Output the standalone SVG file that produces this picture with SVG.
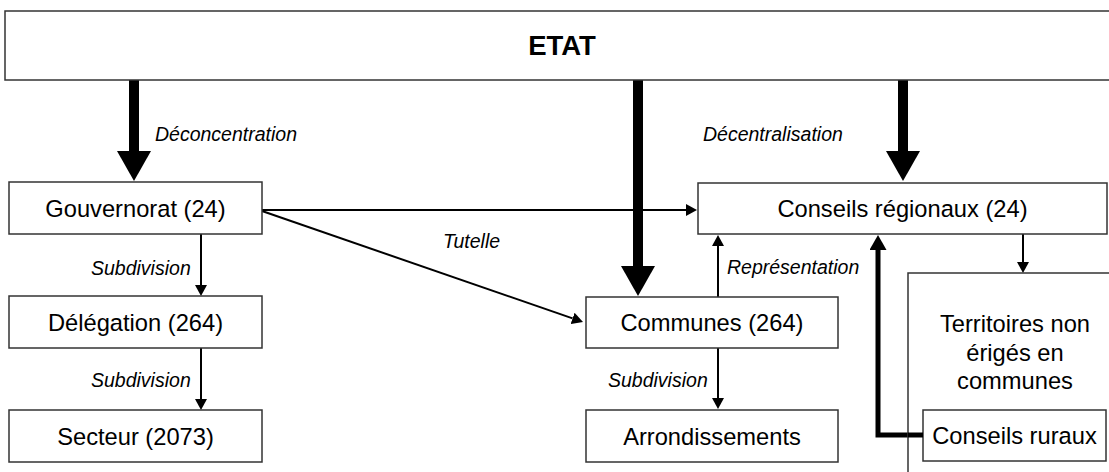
<svg xmlns="http://www.w3.org/2000/svg" width="1109" height="472" viewBox="0 0 1109 472">
<style>
.box{fill:#fff;stroke:#333;stroke-width:1.5}
.t{font-family:"Liberation Sans",Arial,Helvetica,sans-serif;font-size:23.7px;fill:#000;text-anchor:middle}
.lbl{font-family:"Liberation Sans",Arial,Helvetica,sans-serif;font-size:19.5px;font-style:italic;fill:#000}
.thick{stroke:#000;stroke-width:10;fill:none}
.thin{stroke:#000;stroke-width:2;fill:none}
.med{stroke:#000;stroke-width:5;fill:none}
</style>
<defs>
<marker id="big" markerUnits="userSpaceOnUse" viewBox="0 0 30 34" refX="0" refY="17" markerWidth="30" markerHeight="34" orient="auto"><path d="M0,0 L30,17 L0,34 z" fill="#000"/></marker>
<marker id="sm" markerUnits="userSpaceOnUse" viewBox="0 0 11 12" refX="0" refY="6" markerWidth="11" markerHeight="12" orient="auto"><path d="M0,0 L11,6 L0,12 z" fill="#000"/></marker>
<marker id="md" markerUnits="userSpaceOnUse" viewBox="0 0 15 17" refX="0" refY="8.5" markerWidth="15" markerHeight="17" orient="auto"><path d="M0,0 L15,8.5 L0,17 z" fill="#000"/></marker>
</defs>
<rect width="1109" height="472" fill="#fff"/>

<g id="connectors">
<line class="thick" x1="134" y1="80" x2="134" y2="151" marker-end="url(#big)"/>
<line class="thick" x1="638" y1="80" x2="638" y2="266" marker-end="url(#big)"/>
<line class="thick" x1="903" y1="80" x2="903" y2="151" marker-end="url(#big)"/>
<line class="thin" x1="262" y1="210" x2="686" y2="210" marker-end="url(#sm)"/>
<line class="thin" x1="262" y1="211" x2="572.6" y2="318.4" marker-end="url(#sm)"/>
<line class="thin" x1="201" y1="234" x2="201" y2="285" marker-end="url(#sm)"/>
<line class="thin" x1="201" y1="348" x2="201" y2="399" marker-end="url(#sm)"/>
<line class="thin" x1="718" y1="297" x2="718" y2="246" marker-end="url(#sm)"/>
<line class="thin" x1="718" y1="348" x2="718" y2="398" marker-end="url(#sm)"/>
<line class="thin" x1="1023" y1="234" x2="1023" y2="262" marker-end="url(#sm)"/>
<polyline class="med" points="923,435 878,435 878,250" marker-end="url(#md)"/>
<text class="lbl" x="155" y="141">Déconcentration</text>
<text class="lbl" x="703" y="141">Décentralisation</text>
<text class="lbl" x="443" y="248">Tutelle</text>
<text class="lbl" x="91" y="275">Subdivision</text>
<text class="lbl" x="91" y="387">Subdivision</text>
<text class="lbl" x="727" y="274">Représentation</text>
<text class="lbl" x="608" y="387">Subdivision</text>
</g>

<g id="etat">
<rect class="box" x="5" y="11" width="1120" height="69"/>
<text class="t" x="562" y="55" style="font-weight:bold;font-size:27.5px">ETAT</text>
</g>
<g id="gouvernorat">
<rect class="box" x="9" y="182" width="253" height="52"/>
<text class="t" x="135.5" y="216.5">Gouvernorat (24)</text>
</g>
<g id="delegation">
<rect class="box" x="9" y="296" width="253" height="52"/>
<text class="t" x="135.5" y="330.5">Délégation (264)</text>
</g>
<g id="secteur">
<rect class="box" x="9" y="410" width="253" height="52"/>
<text class="t" x="135.5" y="444.5">Secteur (2073)</text>
</g>
<g id="conseils-regionaux">
<rect class="box" x="698" y="183" width="409" height="51"/>
<text class="t" x="902.5" y="217">Conseils régionaux (24)</text>
</g>
<g id="communes">
<rect class="box" x="586" y="297" width="252" height="51"/>
<text class="t" x="712" y="331">Communes (264)</text>
</g>
<g id="arrondissements">
<rect class="box" x="586" y="410" width="252" height="52"/>
<text class="t" x="712" y="444.5">Arrondissements</text>
</g>
<g id="territoires">
<rect class="box" x="908" y="273" width="230" height="220"/>
<text class="t" x="1015" y="332">Territoires non</text>
<text class="t" x="1015" y="360.5">érigés en</text>
<text class="t" x="1015" y="389">communes</text>
</g>
<g id="conseils-ruraux">
<rect class="box" x="923" y="410" width="183" height="51"/>
<text class="t" x="1014.5" y="444">Conseils ruraux</text>
</g>
<line class="med" x1="908" y1="435" x2="923" y2="435"/>
</svg>
